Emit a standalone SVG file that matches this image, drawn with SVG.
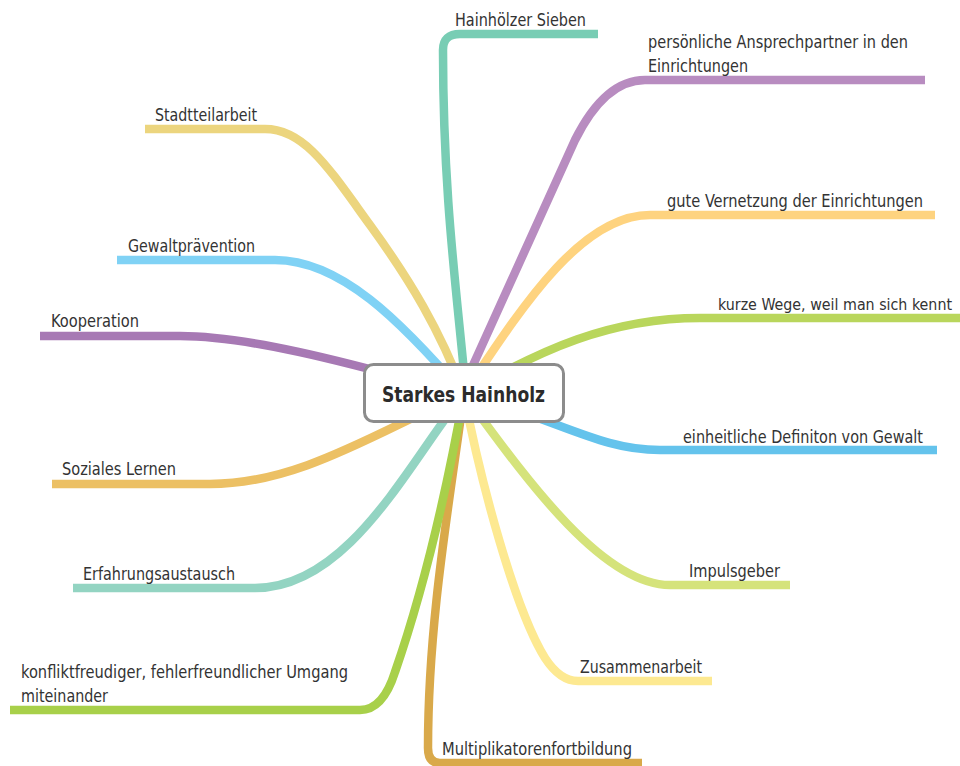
<svg xmlns="http://www.w3.org/2000/svg" width="960" height="766" viewBox="0 0 960 766">
<style>
.br{fill:none;stroke-width:8.5;stroke-linecap:butt;stroke-linejoin:round}
.lb{font-family:"DejaVu Sans Condensed","DejaVu Sans","Liberation Sans",sans-serif;font-size:17px;fill:#333}
.ct{font-family:"DejaVu Sans Condensed","DejaVu Sans","Liberation Sans",sans-serif;font-size:21px;font-weight:bold;fill:#2b2b2b}
</style>
<rect width="960" height="766" fill="#fff"/>
<g id="connectors">
<path class="br" stroke="#78cdb4" d="M466,394 C458,300 443,200 443,50 Q443,34 460,34 L598,34"/>
<path class="br" stroke="#b88cc0" d="M460,394 L575,140 Q605,80 645,80 L925,80"/>
<path class="br" stroke="#fed37f" d="M464,394 C520,310 580,215 650,215 L935,215"/>
<path class="br" stroke="#b9d65c" d="M464,394 C540,350 610,318 700,318 L960,318"/>
<path class="br" stroke="#64c3ec" d="M464,394 C560,420 600,450 660,450 L937,450"/>
<path class="br" stroke="#d5e37b" d="M464,394 C520,470 600,585 670,585 L790,585"/>
<path class="br" stroke="#fde991" d="M464,394 C480,480 515,610 545,658 Q560,681 578,681 L712,681"/>
<path class="br" stroke="#d9a94a" d="M464,394 C450,500 428,620 428,748 Q428,763 440,763 L642,763"/>
<path class="br" stroke="#a8d04a" d="M464,394 C445,500 420,600 395,672 Q383,710 360,710 L10,710"/>
<path class="br" stroke="#93d4c2" d="M464,394 C410,460 350,588 255,588 L73,588"/>
<path class="br" stroke="#ecc064" d="M464,394 C380,430 300,484 210,484 L52,484"/>
<path class="br" stroke="#a779b4" d="M464,394 C380,372 260,336 180,336 L40,336"/>
<path class="br" stroke="#80d2f5" d="M464,394 C400,320 340,260 275,260 L117,260"/>
<path class="br" stroke="#ecd57e" d="M464,394 C440,330 410,280 370,225 C330,170 305,129 265,129 L145,129"/>
</g>
<g id="center">
<rect x="364.5" y="364.5" width="199" height="57" rx="9" fill="#fff" stroke="#8c8c8c" stroke-width="3"/>
<text class="ct" x="382" y="402" textLength="163" lengthAdjust="spacingAndGlyphs">Starkes Hainholz</text>
</g>
<g id="n-hainhoelzer"><text class="lb" x="455" y="26" textLength="131" lengthAdjust="spacingAndGlyphs">Hainhölzer Sieben</text></g>
<g id="n-ansprechpartner"><text class="lb" x="648" y="48" textLength="260" lengthAdjust="spacingAndGlyphs">persönliche Ansprechpartner in den</text><text class="lb" x="648" y="72" textLength="100" lengthAdjust="spacingAndGlyphs">Einrichtungen</text></g>
<g id="n-vernetzung"><text class="lb" x="667" y="207" textLength="256" lengthAdjust="spacingAndGlyphs">gute Vernetzung der Einrichtungen</text></g>
<g id="n-wege"><text class="lb" x="718" y="310" style="font-size:15.5px" textLength="234" lengthAdjust="spacingAndGlyphs">kurze Wege, weil man sich kennt</text></g>
<g id="n-definition"><text class="lb" x="683" y="443" textLength="240" lengthAdjust="spacingAndGlyphs">einheitliche Definiton von Gewalt</text></g>
<g id="n-impuls"><text class="lb" x="689" y="577" textLength="91" lengthAdjust="spacingAndGlyphs">Impulsgeber</text></g>
<g id="n-zusammen"><text class="lb" x="580" y="673" textLength="122" lengthAdjust="spacingAndGlyphs">Zusammenarbeit</text></g>
<g id="n-multi"><text class="lb" x="442" y="755" textLength="190" lengthAdjust="spacingAndGlyphs">Multiplikatorenfortbildung</text></g>
<g id="n-konflikt"><text class="lb" x="21" y="678" textLength="327" lengthAdjust="spacingAndGlyphs">konfliktfreudiger, fehlerfreundlicher Umgang</text><text class="lb" x="21" y="702" textLength="87" lengthAdjust="spacingAndGlyphs">miteinander</text></g>
<g id="n-erfahrung"><text class="lb" x="83" y="580" textLength="152" lengthAdjust="spacingAndGlyphs">Erfahrungsaustausch</text></g>
<g id="n-sozial"><text class="lb" x="62" y="475" textLength="114" lengthAdjust="spacingAndGlyphs">Soziales Lernen</text></g>
<g id="n-kooperation"><text class="lb" x="51" y="327" textLength="88" lengthAdjust="spacingAndGlyphs">Kooperation</text></g>
<g id="n-gewalt"><text class="lb" x="128" y="252" textLength="127" lengthAdjust="spacingAndGlyphs">Gewaltprävention</text></g>
<g id="n-stadtteil"><text class="lb" x="155" y="121" textLength="102" lengthAdjust="spacingAndGlyphs">Stadtteilarbeit</text></g>
</svg>
